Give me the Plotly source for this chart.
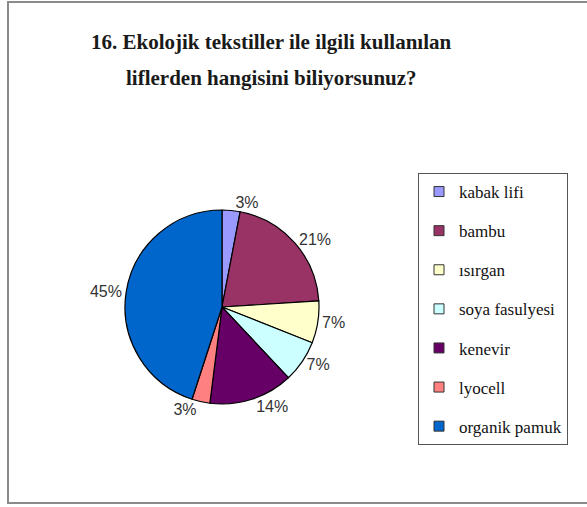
import plotly.graph_objects as go

# Survey answers: which fibres used in ecological textiles are known
labels = ["kabak lifi", "bambu", "ısırgan", "soya fasulyesi", "kenevir", "lyocell", "organik pamuk"]
percents = [3, 21, 7, 7, 14, 3, 45]
colors = ["#9999FF", "#993366", "#FFFFCC", "#CCFFFF", "#660066", "#FF8080", "#0066CC"]

title_lines = ["16. Ekolojik tekstiller ile ilgili kullanılan", "liflerden hangisini biliyorsunuz?"]

W, H = 587, 507

fig = go.Figure()

fig.add_trace(go.Pie(
    labels=labels,
    values=percents,
    sort=False,
    direction="clockwise",
    rotation=0,
    marker=dict(colors=colors, line=dict(color="#000000", width=1.2)),
    texttemplate="%{value}%",
    textposition="outside",
    textfont=dict(family="Liberation Sans, Arial", size=16, color="#333333"),
    showlegend=False,
    hoverinfo="label+percent",
    domain=dict(x=[125 / W, 319 / W], y=[1 - 410 / H, 1 - 204 / H]),
))

# Legend entries, one group each so they can be spaced apart
for lab, col in zip(labels, colors):
    fig.add_trace(go.Scatter(
        x=[None], y=[None], mode="markers", name=lab, legendgroup=lab,
        marker=dict(symbol="square", size=10, color=col, line=dict(color="#333333", width=1)),
        showlegend=True,
    ))

annotations = []
for i, line in enumerate(title_lines):
    annotations.append(dict(
        text="<b>" + line + "</b>", x=271 / W, y=1 - (42 + 36 * i) / H,
        xref="paper", yref="paper", xanchor="center", yanchor="middle",
        showarrow=False, font=dict(family="Liberation Serif, Times New Roman", size=21, color="#1a1a1a"),
    ))

fig.update_layout(
    width=W, height=H,
    margin=dict(l=0, r=0, t=0, b=0),
    paper_bgcolor="white", plot_bgcolor="white",
    xaxis=dict(visible=False), yaxis=dict(visible=False),
    annotations=annotations,
    legend=dict(
        x=418 / W, y=1 - 173 / H, xanchor="left", yanchor="top",
        bordercolor="#555555", borderwidth=1, bgcolor="white",
        font=dict(family="Liberation Serif, Times New Roman", size=17, color="#111111"),
        tracegroupgap=14, itemwidth=30,
    ),
    shapes=[dict(
        type="rect", xref="paper", yref="paper",
        x0=8 / W, x1=1.05, y0=1 - 503 / H, y1=1 - 2 / H,
        line=dict(color="#8a8a8a", width=2),
    )],
)

fig.write_html("out.html")
